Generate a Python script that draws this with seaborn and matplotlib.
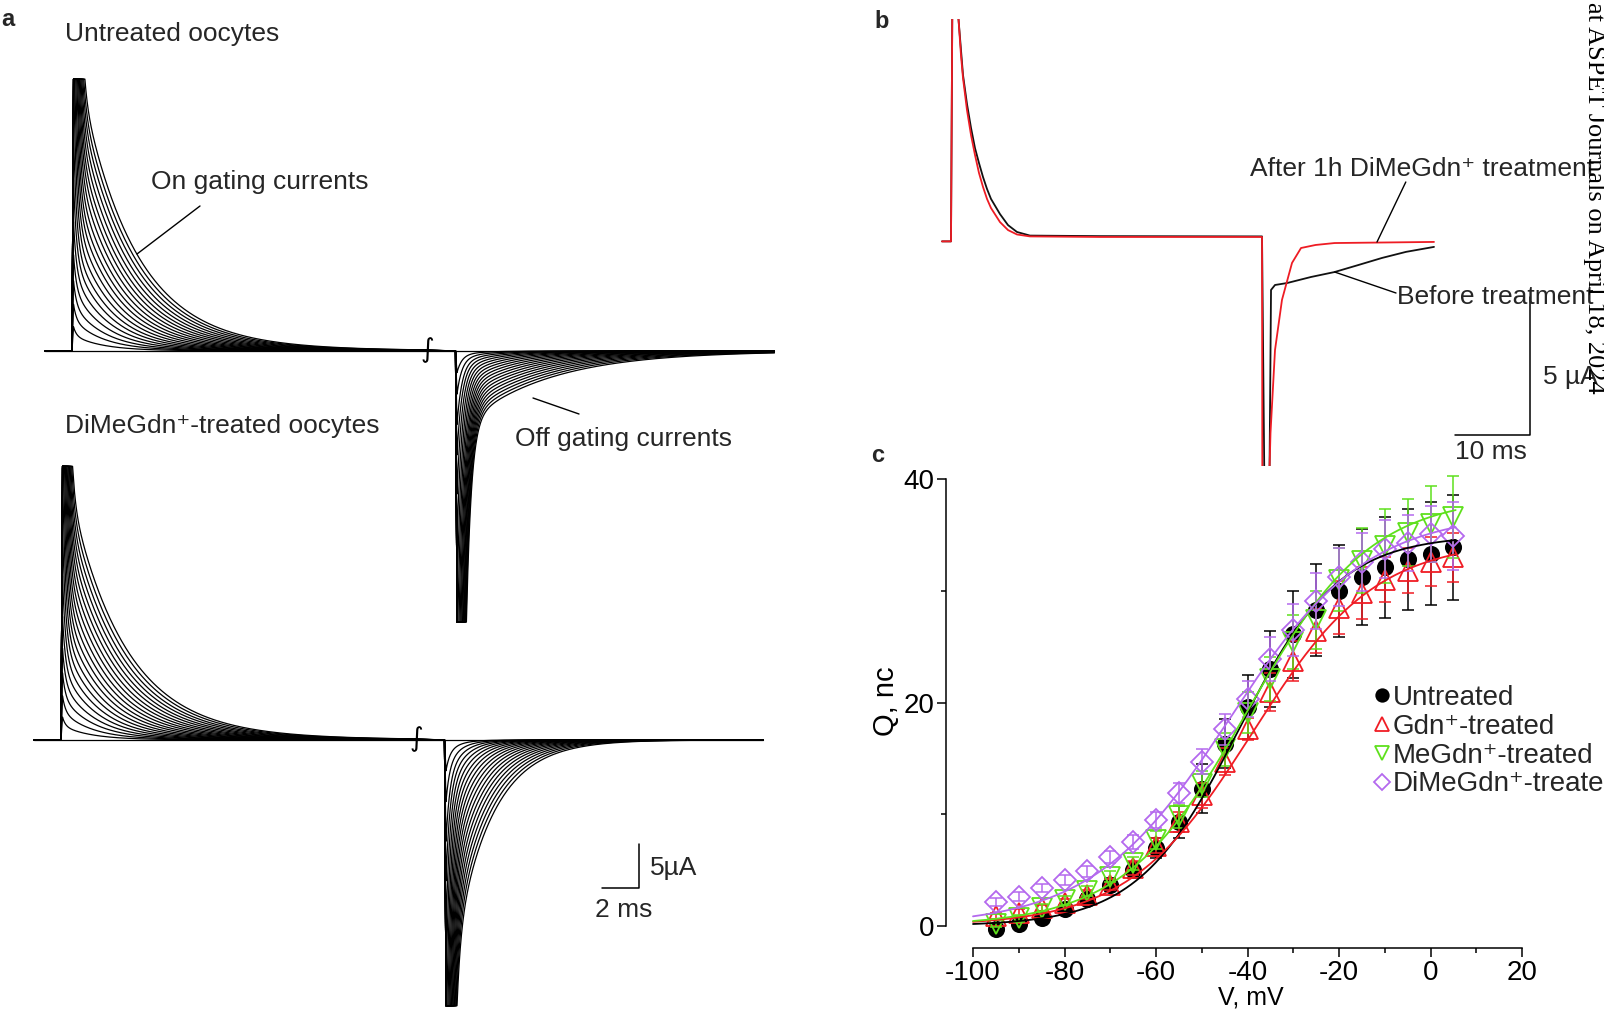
import numpy as np
import pandas as pd
import matplotlib
matplotlib.use("Agg")
import matplotlib.pyplot as plt
import seaborn as sns
from matplotlib.lines import Line2D

# ======================= DATA =======================
# ---- Panel c : Q-V relationship (mean, SEM) ----
V_MV = [-95, -90, -85, -80, -75, -70, -65, -60, -55, -50, -45,
        -40, -35, -30, -25, -20, -15, -10, -5, 0, 5]
Q_UNTREATED = [-0.3, 0.2, 0.7, 1.5, 2.4, 3.7, 5.0, 7.0, 9.3, 12.3, 16.3,
               19.6, 23.0, 26.1, 28.3, 30.0, 31.2, 32.1, 32.8, 33.3, 33.9]
SEM_UNTREATED = [0.3, 0.3, 0.35, 0.4, 0.5, 0.6, 0.7, 0.9, 1.4, 2.2, 2.2,
                 2.9, 3.4, 3.9, 4.1, 4.1, 4.3, 4.5, 4.5, 4.6, 4.7]
Q_GDN = [0.9, 1.2, 1.6, 2.1, 2.8, 3.7, 5.2, 7.2, 9.3, 11.7, 14.7,
         17.6, 20.9, 23.7, 26.4, 28.5, 29.8, 31.0, 31.8, 32.6, 33.0]
SEM_GDN = [0.3, 0.3, 0.3, 0.35, 0.4, 0.5, 0.6, 0.7, 0.9, 1.1, 1.2,
           1.0, 1.7, 1.8, 2.0, 2.4, 2.3, 2.0, 2.0, 2.2, 2.2]
Q_MEGDN = [0.2, 0.7, 1.6, 2.3, 3.1, 4.4, 5.6, 7.7, 9.8, 12.7, 15.8,
           19.1, 22.1, 25.4, 27.4, 31.0, 32.7, 34.0, 35.2, 36.0, 36.6]
SEM_MEGDN = [0.3, 0.3, 0.35, 0.4, 0.45, 0.5, 0.6, 0.8, 1.0, 1.2, 1.5,
             1.8, 2.0, 2.4, 2.6, 2.8, 2.9, 3.3, 3.0, 3.4, 3.7]
Q_DIMEGDN = [2.15, 2.6, 3.4, 4.1, 4.9, 6.2, 7.5, 9.5, 11.9, 14.7, 17.6,
             20.3, 23.9, 26.5, 29.1, 31.2, 32.6, 33.7, 34.3, 35.1, 34.9]
SEM_DIMEGDN = [0.4, 0.4, 0.4, 0.45, 0.5, 0.55, 0.6, 0.7, 0.9, 1.1, 1.4,
               1.6, 2.0, 2.3, 2.5, 2.6, 2.6, 2.6, 2.5, 2.5, 3.0]
SERIES_NAMES = ["Untreated", "Gdn\u207a-treated", "MeGdn\u207a-treated", "DiMeGdn\u207a-treated"]
# Boltzmann fit parameters: Qmax (nC), V1/2 (mV), slope k (mV)
FIT_QMAX = [35.0, 34.5, 38.5, 37.0]
FIT_VHALF = [-42.0, -39.0, -40.0, -44.0]
FIT_SLOPE = [11.0, 13.5, 13.5, 15.0]
FIT_RANGE = [-100, 5.5]

# ---- Panel b : single traces (ms, uA), before / after DiMeGdn+ ----
B_BLACK_T = [0.0, 1.2, 1.45, 1.95, 2.2, 2.8, 3.33, 3.87, 4.4, 4.93, 5.47, 6.0, 6.53, 7.73,
             8.8, 10.0, 11.73, 21.07, 42.67, 43.13, 43.53, 43.87, 44.4, 46.0, 49.2, 52.35,
             55.47, 58.67, 61.87, 65.6]
B_BLACK_I = [-0.05, -0.05, 12.0, 12.0, 8.0, 5.98, 4.93, 4.06, 3.33, 2.79, 2.28, 1.85, 1.49, 0.94,
             0.54, 0.29, 0.16, 0.14, 0.13, -13.0, -13.0, -1.81, -1.63, -1.56, -1.34, -1.16,
             -0.91, -0.65, -0.43, -0.25]
B_RED_T = [0.0, 1.2, 1.45, 1.95, 2.2, 2.53, 2.8, 3.33, 3.87, 4.4, 4.93, 5.47, 6.0, 6.53, 7.73,
           8.8, 10.0, 11.73, 21.07, 42.67, 42.73, 43.2, 43.8, 44.4, 45.33, 46.67, 47.87,
           49.81, 52.35, 65.6]
B_RED_I = [-0.05, -0.05, 12.0, 12.0, 8.0, 6.7, 5.87, 4.71, 3.8, 3.08, 2.43, 1.92, 1.49, 1.16, 0.65,
           0.36, 0.2, 0.13, 0.11, 0.11, -13.0, -13.0, -6.99, -3.99, -2.17, -0.83, -0.29,
           -0.18, -0.11, -0.07]

# ---- Panel a : gating-current families (uA, ms); 21 voltage steps ----
ON_CAP = [0, 1.0, 1.8, 2.8, 4.0, 6.0, 9.0, 13, 18, 24, 31, 39, 48, 58, 68, 78, 88, 98, 108, 118, 128]
ON_TAIL = [0, 0.06, 0.12, 0.18, 0.24, 0.3, 0.36, 0.42, 0.48, 0.54, 0.6, 0.66, 0.72, 0.78, 0.84,
           0.9, 0.96, 1.02, 1.08, 1.14, 1.2]
TOP_ON_AMP = [0, 1.7, 3.4, 5.0, 6.7, 8.4, 10.1, 11.7, 13.4, 15.1, 16.8, 18.4, 20.1, 21.8, 23.5,
              25.1, 26.8, 28.5, 30.2, 31.8, 33.5]
TOP_ON_TAU = [1.50, 1.57, 1.64, 1.71, 1.78, 1.85, 1.92, 1.99, 2.06, 2.13, 2.20, 2.27, 2.34, 2.41,
              2.48, 2.55, 2.62, 2.69, 2.76, 2.83, 2.90]
BOT_ON_AMP = [0, 1.55, 3.1, 4.65, 6.2, 7.75, 9.3, 10.85, 12.4, 13.95, 15.5, 17.05, 18.6, 20.15,
              21.7, 23.25, 24.8, 26.35, 27.9, 29.45, 31.0]
BOT_ON_TAU = [1.45, 1.53, 1.60, 1.68, 1.75, 1.83, 1.90, 1.98, 2.05, 2.13, 2.20, 2.28, 2.35, 2.43,
              2.50, 2.58, 2.65, 2.73, 2.80, 2.88, 2.95]
TOP_OFF_CAP = [0, 2, 4, 7, 10, 14, 19, 25, 32, 40, 49, 58, 68, 78, 88, 98, 108, 118, 128, 139, 150]
TOP_OFF_AMP = [0, 0.45, 0.9, 1.35, 1.8, 2.25, 2.7, 3.15, 3.6, 4.05, 4.5, 4.95, 5.4, 5.85, 6.3,
               6.75, 7.2, 7.65, 8.1, 8.55, 9.0]
TOP_OFF_TAU = [1.0, 1.18, 1.36, 1.54, 1.72, 1.9, 2.08, 2.26, 2.44, 2.62, 2.8, 2.98, 3.16, 3.34,
               3.52, 3.7, 3.88, 4.06, 4.24, 4.42, 4.6]
BOT_OFF_CAP = [0, 2, 4, 7, 10, 14, 19, 25, 32, 40, 49, 58, 68, 78, 90, 102, 114, 126, 138, 147, 156]
BOT_OFF_AMP = [0, 1.5, 3.0, 4.5, 6.0, 7.5, 9.0, 10.5, 12.0, 13.5, 15.0, 16.5, 18.0, 19.5, 21.0,
               22.5, 24.0, 25.5, 27.0, 28.5, 30.0]
BOT_OFF_TAU = [0.6, 0.67, 0.74, 0.81, 0.88, 0.95, 1.02, 1.09, 1.16, 1.23, 1.3, 1.37, 1.44, 1.51,
               1.58, 1.65, 1.72, 1.79, 1.86, 1.93, 2.0]
CAP_TAU_ON, CAP_TAU_OFF_TOP, CAP_TAU_OFF_BOT, TAIL_TAU = 0.16, 0.27, 0.20, 7.0
CLIP_LEVELS = [30.9, 30.8, 31.1, 30.2]        # top-on, top-off, bottom-on, bottom-off
PROTOCOL_MS = [-1.45, 19.15, 20.73, 37.97]     # start, break, off-step, end

# ======================= STYLE =======================
sns.set_theme(style="white")
plt.rcParams["font.family"] = ["Liberation Sans", "DejaVu Sans"]
plt.rcParams["axes.unicode_minus"] = False

W, H = 1604, 1013
fig = plt.figure(figsize=(W / 100, H / 100), dpi=100)
fig.patch.set_facecolor("white")


def fx(px):
    return px / W


def fy(py):
    return 1 - py / H


TXT = 19

# ======================= PANEL A =======================
PX_MS, PX_UA = 18.5, 8.8
X0A, Y0A = 72, 351
axa = fig.add_axes([0, 0, 820 / W, 1])
axa.set_xlim(-X0A / PX_MS, (820 - X0A) / PX_MS)
axa.set_ylim(-(H - Y0A) / PX_UA, Y0A / PX_UA)
axa.axis("off")

RISE = 0.08
t_start, t_break, t_off, t_end = PROTOCOL_MS


def family(cap_on, amp_on, tau_on, cap_off, amp_off, tau_off, tc_off, clip_on, clip_off, dt, dy):
    rows = []
    tt_on = np.concatenate([np.linspace(0, 2, 500), np.linspace(2.01, t_break - RISE, 400)])
    tt_off = np.concatenate([np.linspace(0, 2, 500), np.linspace(2.01, t_end - t_off - RISE, 400)])
    for k in range(len(amp_on)):
        i_on = (cap_on[k] * np.exp(-tt_on / CAP_TAU_ON) + amp_on[k] * np.exp(-tt_on / tau_on[k])
                + ON_TAIL[k] * np.exp(-tt_on / TAIL_TAU))
        t1 = np.concatenate([[t_start, 0.0], RISE + tt_on])
        i1 = np.concatenate([[0.0, 0.0], np.clip(i_on, -clip_on, clip_on)])
        i_off = -(cap_off[k] * np.exp(-tt_off / tc_off) + amp_off[k] * np.exp(-tt_off / tau_off[k]))
        t2 = np.concatenate([[t_break, t_off], t_off + RISE + tt_off])
        i2 = np.concatenate([[i1[-1], 0.0], np.clip(i_off, -clip_off, clip_off)])
        rows.append(pd.DataFrame({"t": t1 + dt, "I": i1 + dy, "trace": f"on{k}"}))
        rows.append(pd.DataFrame({"t": t2 + dt, "I": i2 + dy, "trace": f"off{k}"}))
    return pd.concat(rows, ignore_index=True)


BOT_DT = -11 / PX_MS
BOT_DY = -(740 - Y0A) / PX_UA
df_top = family(ON_CAP, TOP_ON_AMP, TOP_ON_TAU, TOP_OFF_CAP, TOP_OFF_AMP, TOP_OFF_TAU,
                CAP_TAU_OFF_TOP, CLIP_LEVELS[0], CLIP_LEVELS[1], 0.0, 0.0)
df_bot = family(ON_CAP, BOT_ON_AMP, BOT_ON_TAU, BOT_OFF_CAP, BOT_OFF_AMP, BOT_OFF_TAU,
                CAP_TAU_OFF_BOT, CLIP_LEVELS[2], CLIP_LEVELS[3], BOT_DT, BOT_DY)
for d in (df_top, df_bot):
    sns.lineplot(data=d, x="t", y="I", units="trace", estimator=None, sort=False,
                 color="black", lw=0.9, ax=axa, legend=False)

# break marks
for dt, dy in ((0.0, 0.0), (BOT_DT, BOT_DY)):
    axa.text((427 - X0A) / PX_MS + dt, dy + 0.1, "\u222b", fontsize=19, ha="center", va="center",
             family=["DejaVu Sans"], color="black")

# scale bar (2 ms, 5 uA)
sb_x, sb_y = (639 - X0A) / PX_MS, -(888 - Y0A) / PX_UA
axa.plot([sb_x - 2, sb_x, sb_x], [sb_y, sb_y, sb_y + 5], color="black", lw=1.1)


def a_pt(px, py):
    return (px - X0A) / PX_MS, (Y0A - py) / PX_UA


for (p1, p2) in (((200, 206), (137, 254)), ((533, 398), (579, 414))):
    (x1, y1), (x2, y2) = a_pt(*p1), a_pt(*p2)
    axa.plot([x1, x2], [y1, y2], color="black", lw=1.0)

fig.text(fx(8), fy(19), "a", fontsize=17, fontweight="bold", ha="center", va="center")
fig.text(fx(65), fy(34), "Untreated oocytes", fontsize=TXT, ha="left", va="center")
fig.text(fx(151), fy(182), "On gating currents", fontsize=TXT, ha="left", va="center")
fig.text(fx(65), fy(426), "DiMeGdn\u207a-treated oocytes", fontsize=TXT, ha="left", va="center")
fig.text(fx(515), fy(439), "Off gating currents", fontsize=TXT, ha="left", va="center")
fig.text(fx(650), fy(868), "5\u00b5A", fontsize=TXT, ha="left", va="center")
fig.text(fx(595), fy(910), "2 ms", fontsize=TXT, ha="left", va="center")

# ======================= PANEL B =======================
PXB_MS, PXB_UA = 7.5, 27.6
X0B, Y0B = 942, 240
axb = fig.add_axes([fx(900), fy(466), (W - 900) / W, (466 - 19) / H])
axb.set_xlim((900 - X0B) / PXB_MS, (W - X0B) / PXB_MS)
axb.set_ylim((Y0B - 466) / PXB_UA, (Y0B - 19) / PXB_UA)
axb.axis("off")
sns.lineplot(x=B_BLACK_T, y=B_BLACK_I, sort=False, estimator=None, color="#111111", lw=1.3, ax=axb)
sns.lineplot(x=B_RED_T, y=B_RED_I, sort=False, estimator=None, color="#ee1c24", lw=1.3, ax=axb)


def b_pt(px, py):
    return (px - X0B) / PXB_MS, (Y0B - py) / PXB_UA


for (p1, p2) in (((1405.8, 182), (1377, 242)), ((1396, 293), (1334.6, 272))):
    (x1, y1), (x2, y2) = b_pt(*p1), b_pt(*p2)
    axb.plot([x1, x2], [y1, y2], color="black", lw=1.0)
bx, by = b_pt(1530, 435)
axb.plot([bx - 10, bx, bx], [by, by, by + 5], color="black", lw=1.1)

fig.text(fx(882), fy(21), "b", fontsize=17, fontweight="bold", ha="center", va="center")
fig.text(fx(1250), fy(169), "After 1h DiMeGdn\u207a treatment", fontsize=TXT, ha="left", va="center")
fig.text(fx(1397), fy(297), "Before treatment", fontsize=TXT, ha="left", va="center")
fig.text(fx(1543), fy(377), "5 \u00b5A", fontsize=TXT, ha="left", va="center")
fig.text(fx(1455), fy(452), "10 ms", fontsize=TXT, ha="left", va="center")

# ======================= PANEL C =======================
axc = fig.add_axes([fx(946), fy(948), (1522 - 946) / W, (948 - 479) / H])
axc.set_xlim(-100 - 27 / 4.575, 20)
axc.set_ylim(-22 / 11.175, 40)
axc.set_facecolor("white")
for s in ("top", "right"):
    axc.spines[s].set_visible(False)
for s in ("left", "bottom"):
    axc.spines[s].set_color("black")
    axc.spines[s].set_linewidth(1.1)
axc.spines["left"].set_bounds(0, 40)
axc.spines["bottom"].set_bounds(-100, 20)
axc.set_xticks([-100, -80, -60, -40, -20, 0, 20])
axc.set_xticks([-90, -70, -50, -30, -10, 10], minor=True)
axc.set_yticks([0, 20, 40])
axc.set_yticks([10, 30], minor=True)
axc.tick_params(which="major", direction="out", length=6.5, width=1.1, colors="black",
                labelsize=20, left=True, bottom=True)
axc.tick_params(which="minor", direction="out", length=3.5, width=1.1, colors="black",
                left=True, bottom=True)
axc.tick_params(axis="x", pad=2)
axc.tick_params(axis="y", pad=2)
axc.grid(False)

means = [Q_UNTREATED, Q_GDN, Q_MEGDN, Q_DIMEGDN]
sems = [SEM_UNTREATED, SEM_GDN, SEM_MEGDN, SEM_DIMEGDN]
colors = ["black", "#f01c24", "#5ee01c", "#b469ee"]
markers = ["o", "^", "v", "D"]
msizes = [11, 14, 14, 11]
for i in range(4):
    axc.errorbar(V_MV, means[i], yerr=sems[i], fmt="none", ecolor=colors[i], elinewidth=1.1,
                 capsize=4, capthick=1.1, clip_on=False, zorder=2 + i)
    filled = i == 0
    axc.plot(V_MV, means[i], ls="none", marker=markers[i], ms=msizes[i],
             mfc=colors[i] if filled else "none", mec=colors[i], mew=1.3,
             clip_on=False, zorder=2 + i)
vfit = np.linspace(FIT_RANGE[0], FIT_RANGE[1], 300)
for i in range(4):
    qfit = FIT_QMAX[i] / (1 + np.exp((FIT_VHALF[i] - vfit) / FIT_SLOPE[i]))
    sns.lineplot(x=vfit, y=qfit, color=colors[i], lw=1.3, ax=axc, zorder=10)

axc.set_xlabel("V, mV", fontsize=18, color="black")
axc.set_ylabel("Q, nc", fontsize=21, color="black")
axc.xaxis.set_label_coords((1251 - 946) / 576, (948 - 985) / 469)
axc.yaxis.set_label_coords((900 - 946) / 576, (948 - 701) / 469)

handles = []
for i in range(4):
    handles.append(Line2D([], [], ls="none", marker=markers[i], ms=[9, 10, 10, 8][i],
                          mfc=colors[i] if i == 0 else "none", mec=colors[i], mew=1.3))
fig.legend(handles, SERIES_NAMES, loc="upper left", bbox_to_anchor=(fx(1374), fy(685)),
           frameon=False, fontsize=20, handlelength=0.55, handletextpad=0.12,
           labelspacing=0.1, borderpad=0, borderaxespad=0)

fig.text(fx(878), fy(456), "c", fontsize=17, fontweight="bold", ha="center", va="center")

# watermark
fig.text(fx(1594), fy(2), "at ASPET Journals on April 18, 2024", rotation=270, ha="center",
         va="top", fontsize=19, family=["Liberation Serif", "DejaVu Serif"], color="black")

fig.savefig("out.png", dpi=100)
